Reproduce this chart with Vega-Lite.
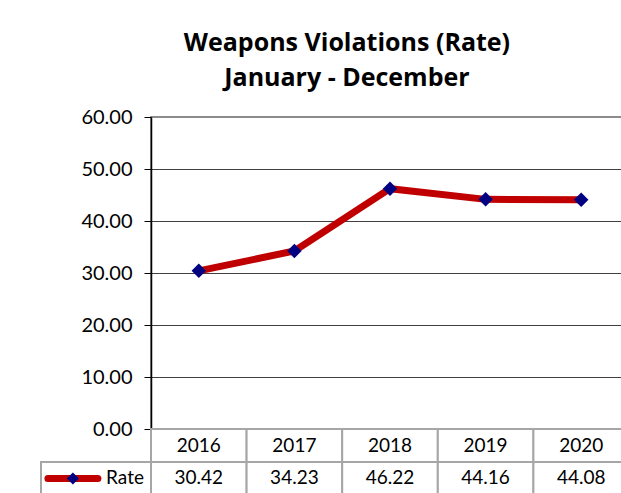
{
  "$schema": "https://vega.github.io/schema/vega-lite/v6.json",
  "padding": {"left": 33, "top": 31, "right": 0, "bottom": 0},
  "background": "white",
  "spacing": 0,
  "bounds": "flush",
  "data": {"values": [
    {"year": "2016", "rate": 30.42},
    {"year": "2017", "rate": 34.23},
    {"year": "2018", "rate": 46.22},
    {"year": "2019", "rate": 44.16},
    {"year": "2020", "rate": 44.08}
  ]},
  "title": {
    "text": ["Weapons Violations (Rate)", "January - December"],
    "font": "Open Sans", "fontSize": 25, "fontWeight": "bold", "color": "black",
    "lineHeight": 35, "anchor": "middle", "offset": 15, "dx": 15
  },
  "config": {"font": "Lato", "view": {"stroke": null}},
  "vconcat": [
    {
      "width": 478,
      "height": 312,
      "view": {"stroke": "#8c8c8c", "strokeWidth": 2},
      "encoding": {
        "x": {"field": "year", "type": "ordinal", "scale": {"type": "point", "padding": 0.5}, "axis": null},
        "y": {"field": "rate", "type": "quantitative", "scale": {"domain": [0, 60]},
          "axis": {"values": [0, 10, 20, 30, 40, 50, 60], "format": ".2f", "title": null,
            "labelFontSize": 20, "labelColor": "black", "labelPadding": 12, "labelFont": "Lato",
            "tickSize": 7, "tickColor": "black", "domainColor": "black", "domainWidth": 1.5,
            "grid": true, "gridWidth": 1,
            "gridColor": {"condition": {"test": "datum.value === 60", "value": "#8c8c8c"}, "value": "#404040"}}}
      },
      "layer": [
        {"mark": {"type": "line", "color": "#C00000", "strokeWidth": 7}},
        {"mark": {"type": "point", "shape": "diamond", "filled": true, "color": "#000080", "size": 210, "opacity": 1}}
      ]
    },
    {
      "width": 478,
      "height": 66,
      "resolve": {"scale": {"x": "independent"}},
      "encoding": {
        "y": {"datum": "Year", "type": "ordinal", "scale": {"type": "band", "domain": ["Year", "Rate"], "paddingInner": 0, "paddingOuter": 0}, "axis": null}
      },
      "layer": [
        {
          "encoding": {
            "x": {"field": "year", "type": "ordinal", "scale": {"type": "band", "paddingInner": 0, "paddingOuter": 0}, "axis": null}
          },
          "layer": [
            {"mark": {"type": "rect", "fill": "white", "stroke": "#a6a6a6", "strokeWidth": 2}},
            {"mark": {"type": "rect", "fill": "white", "stroke": "#a6a6a6", "strokeWidth": 2},
              "encoding": {"y": {"datum": "Rate", "type": "ordinal"}}},
            {"mark": {"type": "text", "fontSize": 19, "color": "black", "baseline": "middle"},
              "encoding": {"text": {"field": "year", "type": "nominal"}}},
            {"mark": {"type": "text", "fontSize": 19, "color": "black", "baseline": "middle", "dy": -1},
              "encoding": {"y": {"datum": "Rate", "type": "ordinal"}, "text": {"field": "rate", "type": "quantitative", "format": ".2f"}}}
          ]
        },
        {
          "data": {"values": [{"series": "Rate"}]},
          "encoding": {
            "x": {"datum": "Rate", "type": "ordinal", "scale": {"type": "band", "domain": ["Rate"], "range": [-110, 0], "paddingInner": 0, "paddingOuter": 0}, "axis": null},
            "y": {"datum": "Rate", "type": "ordinal"}
          },
          "layer": [
            {"mark": {"type": "rect", "fill": "white", "stroke": "#a6a6a6", "strokeWidth": 2, "clip": false}},
            {"mark": {"type": "point", "shape": "M-1,0L1,0", "filled": false, "stroke": "#C00000", "strokeWidth": 7, "strokeCap": "round", "size": 2500, "opacity": 1, "clip": false},
              "encoding": {"x": {"datum": "Rate", "type": "ordinal", "bandPosition": 0.29}}},
            {"mark": {"type": "point", "shape": "diamond", "filled": true, "color": "#000080", "size": 150, "opacity": 1, "clip": false},
              "encoding": {"x": {"datum": "Rate", "type": "ordinal", "bandPosition": 0.29}}},
            {"mark": {"type": "text", "fontSize": 19, "color": "black", "baseline": "middle", "align": "right", "dx": -7, "dy": -1, "clip": false},
              "encoding": {"x": {"datum": "Rate", "type": "ordinal", "bandPosition": 1}, "text": {"field": "series", "type": "nominal"}}}
          ]
        }
      ]
    }
  ]
}
